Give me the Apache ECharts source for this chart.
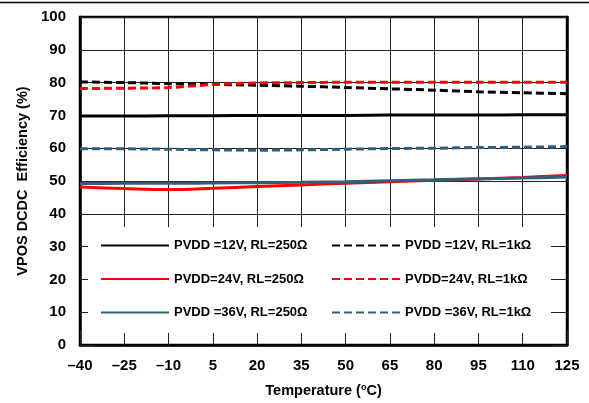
<!DOCTYPE html>
<html>
<head>
<meta charset="utf-8">
<script src="https://cdn.jsdelivr.net/npm/echarts@6/dist/echarts.min.js"></script>
<style>
html,body{margin:0;padding:0;background:#fff;}
#chart{width:589px;height:403px;}
</style>
</head>
<body>
<div id="chart"></div>
<script>
// ---- data ----
var temperatures = [-40, -25, -10, 5, 20, 35, 50, 65, 80, 95, 110, 125];
var pvdd12_rl250 = [69.8, 69.8, 69.9, 69.9, 70.0, 70.0, 70.0, 70.1, 70.1, 70.1, 70.2, 70.2];
var pvdd12_rl1k  = [80.2, 80.0, 79.7, 79.5, 79.2, 78.9, 78.5, 78.1, 77.7, 77.2, 76.9, 76.6];
var pvdd24_rl250 = [48.2, 47.7, 47.4, 47.8, 48.3, 48.8, 49.3, 49.8, 50.2, 50.6, 51.1, 51.7];
var pvdd24_rl1k  = [78.2, 78.3, 78.5, 79.4, 79.9, 80.0, 80.1, 80.1, 80.1, 80.1, 80.1, 80.1];
var pvdd36_rl250 = [49.2, 49.3, 49.3, 49.4, 49.5, 49.6, 49.8, 50.1, 50.4, 50.7, 50.9, 51.2];
var pvdd36_rl1k  = [59.8, 59.8, 59.7, 59.5, 59.4, 59.5, 59.7, 59.9, 60.0, 60.2, 60.3, 60.5];
var seriesNames = [
  'PVDD =12V, RL=250Ω', 'PVDD =12V, RL=1kΩ',
  'PVDD=24V, RL=250Ω', 'PVDD=24V, RL=1kΩ',
  'PVDD =36V, RL=250Ω', 'PVDD =36V, RL=1kΩ'
];
var xTitle = 'Temperature';
var yTitle = 'VPOS DCDC  Efficiency (%)';

var FONT = '"Liberation Sans", Arial, sans-serif';
var BLACK = '#000000', RED = '#FF0000', TEAL = '#2F5F7A';

function mk(name, data, color, dashed) {
  return {
    name: name, type: 'line', data: data, symbol: 'none', smooth: 0.3,
    lineStyle: { color: color, width: 3, type: dashed ? [8, 4] : 'solid' },
    itemStyle: { color: color },
    emphasis: { disabled: true }
  };
}

var chart = echarts.init(document.getElementById('chart'), null, { renderer: 'canvas' });
var tickLabelStyle = { color: '#000', fontFamily: FONT, fontWeight: 'bold', fontSize: 15 };
var legendCommon = {
  orient: 'vertical', top: 239, padding: 0, itemGap: 20.5,
  itemWidth: 68, itemHeight: 14, selectedMode: false,
  itemStyle: { opacity: 0 },
  textStyle: { color: '#000', fontFamily: FONT, fontWeight: 'bold', fontSize: 13 }
};

chart.setOption({
  animation: false,
  backgroundColor: '#fff',
  grid: { left: 80, right: 22, top: 17, bottom: 55, show: true, borderColor: '#000', borderWidth: 2.5, backgroundColor: 'transparent' },
  graphic: [
    { type: 'line', z: 10, shape: { x1: 0, y1: 2.5, x2: 589, y2: 2.5 }, style: { stroke: '#000', lineWidth: 1.5 } },
    { type: 'rect', z: 3, shape: { x: 88, y: 227, width: 463, height: 106 }, style: { fill: '#fff' } }
  ],
  legend: [
    Object.assign({ left: 100, data: seriesNames.filter(function (n, i) { return i % 2 === 0; }) }, legendCommon),
    Object.assign({ left: 331, data: seriesNames.filter(function (n, i) { return i % 2 === 1; }) }, legendCommon)
  ],
  xAxis: {
    type: 'category', data: temperatures, boundaryGap: false,
    name: '{t|' + xTitle + ' (}{s|o}{t|C)}', nameLocation: 'middle', nameGap: 38,
    nameTextStyle: {
      rich: {
        t: { fontFamily: FONT, fontWeight: 'bold', fontSize: 14.5, color: '#000' },
        s: { fontFamily: FONT, fontWeight: 'bold', fontSize: 9, color: '#000', verticalAlign: 'top', padding: [0, 0, 6, 0] }
      }
    },
    axisLine: { lineStyle: { color: '#000', width: 2.5 } },
    axisTick: { inside: true, length: 15, lineStyle: { color: '#222', width: 1 } },
    axisLabel: Object.assign({ margin: 13, formatter: function (v) { return String(v).replace('-', '–'); } }, tickLabelStyle),
    splitLine: { show: true, lineStyle: { color: '#222', width: 1 } }
  },
  yAxis: [
    {
      type: 'value', min: 0, max: 100, interval: 10, position: 'left',
      name: yTitle, nameLocation: 'middle', nameGap: 45,
      nameTextStyle: { fontFamily: FONT, fontWeight: 'bold', fontSize: 14.5, color: '#000' },
      axisLine: { show: true, lineStyle: { color: '#000', width: 2.5 } },
      axisTick: { show: true, inside: true, length: 15, lineStyle: { color: '#222', width: 1 } },
      axisLabel: Object.assign({ margin: 14 }, tickLabelStyle),
      splitLine: { show: true, lineStyle: { color: '#222', width: 1 } }
    },
    {
      type: 'value', min: 0, max: 100, interval: 10, position: 'right',
      axisLine: { show: true, lineStyle: { color: '#000', width: 2.5 } },
      axisTick: { show: true, inside: true, length: 15, lineStyle: { color: '#222', width: 1 } },
      axisLabel: { show: false },
      splitLine: { show: false }
    }
  ],
  series: [
    mk(seriesNames[0], pvdd12_rl250, BLACK, false),
    mk(seriesNames[1], pvdd12_rl1k, BLACK, true),
    mk(seriesNames[2], pvdd24_rl250, RED, false),
    mk(seriesNames[3], pvdd24_rl1k, RED, true),
    mk(seriesNames[4], pvdd36_rl250, TEAL, false),
    mk(seriesNames[5], pvdd36_rl1k, TEAL, true)
  ]
});
</script>
</body>
</html>
